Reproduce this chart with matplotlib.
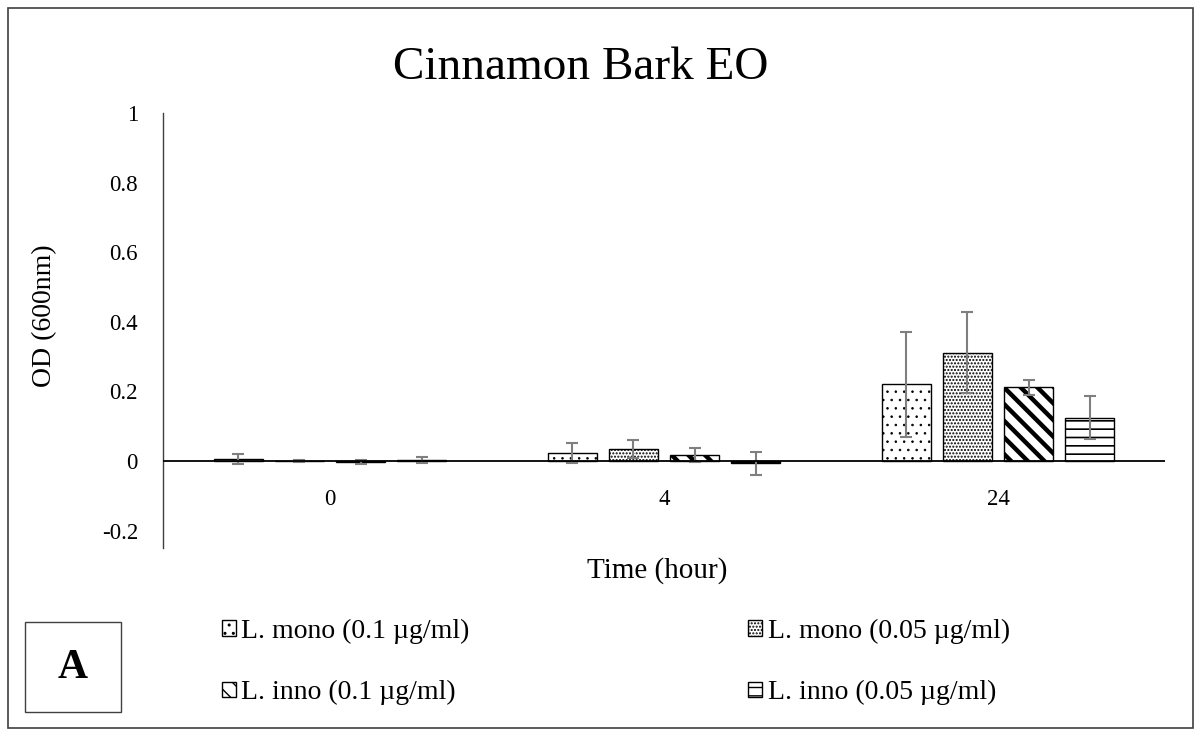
import numpy as np
import matplotlib.pyplot as plt
from matplotlib.patches import Rectangle

# data
times = ['0', '4', '24']
series = ['L. mono (0.1 \u00b5g/ml)', 'L. mono (0.05 \u00b5g/ml)',
          'L. inno (0.1 \u00b5g/ml)', 'L. inno (0.05 \u00b5g/ml)']
mono_01 = [0.005, 0.023, 0.220]
mono_01_err = [0.015, 0.029, 0.151]
mono_005 = [0.001, 0.034, 0.311]
mono_005_err = [0.003, 0.025, 0.117]
inno_01 = [-0.002, 0.017, 0.212]
inno_01_err = [0.006, 0.020, 0.022]
inno_005 = [0.002, -0.006, 0.125]
inno_005_err = [0.009, 0.033, 0.063]

values = [mono_01, mono_005, inno_01, inno_005]
errors = [mono_01_err, mono_005_err, inno_01_err, inno_005_err]
hatches = ['..', '.....', '\\\\', '--']
hatch_lw = [0.6, 1.0, 3.2, 1.2]

plt.rcParams['font.family'] = ['Liberation Serif', 'DejaVu Serif']
plt.rcParams['hatch.color'] = 'black'

fig = plt.figure(figsize=(12.01, 7.36), dpi=100)
# outer frame
fig.patches.append(Rectangle((0.007, 0.011), 0.986, 0.978, transform=fig.transFigure,
                             fill=False, edgecolor='#404040', linewidth=1.2))

ax = fig.add_axes([0.1357, 0.2554, 0.8343, 0.5911])

x = np.arange(len(times))
width = 0.147
pitch = 0.183
handles = []
for i in range(4):
    xs = x + (i - 1.5) * pitch
    bars = ax.bar(xs, values[i], width, color='white', edgecolor='black',
                  linewidth=1.0, hatch=hatches[i], label=series[i], zorder=2)
    for b in bars:
        if hasattr(b, 'set_hatch_linewidth'):
            b.set_hatch_linewidth(hatch_lw[i])
    ax.errorbar(xs, values[i], yerr=errors[i], fmt='none', ecolor='#7f7f7f',
                elinewidth=1.5, capsize=4.5, capthick=1.5, zorder=3)
    handles.append(bars)

ax.axhline(0, color='black', linewidth=1.3, zorder=4)
ax.set_xlim(-0.5, 2.5)
ax.set_ylim(-0.25, 1.0)
ax.set_yticks([-0.2, 0, 0.2, 0.4, 0.6, 0.8, 1.0])
ax.set_yticklabels(['-0.2', '0', '0.2', '0.4', '0.6', '0.8', '1'])
ax.set_xticks(x)
ax.set_xticklabels(times)
# category labels sit just under the zero line
ax.spines['bottom'].set_position(('data', 0))
ax.tick_params(axis='both', length=0, labelsize=16.5)
ax.tick_params(axis='x', pad=20)
ax.tick_params(axis='y', pad=18)
for s in ['top', 'right', 'bottom']:
    ax.spines[s].set_visible(False)
ax.spines['left'].set_color('#404040')
ax.spines['left'].set_linewidth(1.0)

ax.set_xlabel('Time (hour)', fontsize=21)
ax.xaxis.set_label_coords(0.493, -0.02)
ax.set_ylabel('OD (600nm)', fontsize=20)
ax.yaxis.set_label_coords(-0.106, 0.534)
fig.text(0.4838, 0.908, 'Cinnamon Bark EO', ha='center', va='center', fontsize=34)

order = [0, 2, 1, 3]
leg = fig.legend([handles[k] for k in order], [series[k] for k in order], ncol=2,
                 loc='upper left', bbox_to_anchor=(0.1848, 0.159), frameon=False,
                 fontsize=20, handlelength=0.5, handleheight=0.5, handletextpad=0.2,
                 columnspacing=10.03, labelspacing=1.3, borderpad=0, borderaxespad=0)

# panel letter box
fig.patches.append(Rectangle((0.0208, 0.0326), 0.08, 0.122, transform=fig.transFigure,
                             fill=False, edgecolor='#404040', linewidth=1.0))
fig.text(0.0608, 0.0925, 'A', ha='center', va='center', fontsize=30, fontweight='bold')

fig.savefig('out.png', dpi=100)
